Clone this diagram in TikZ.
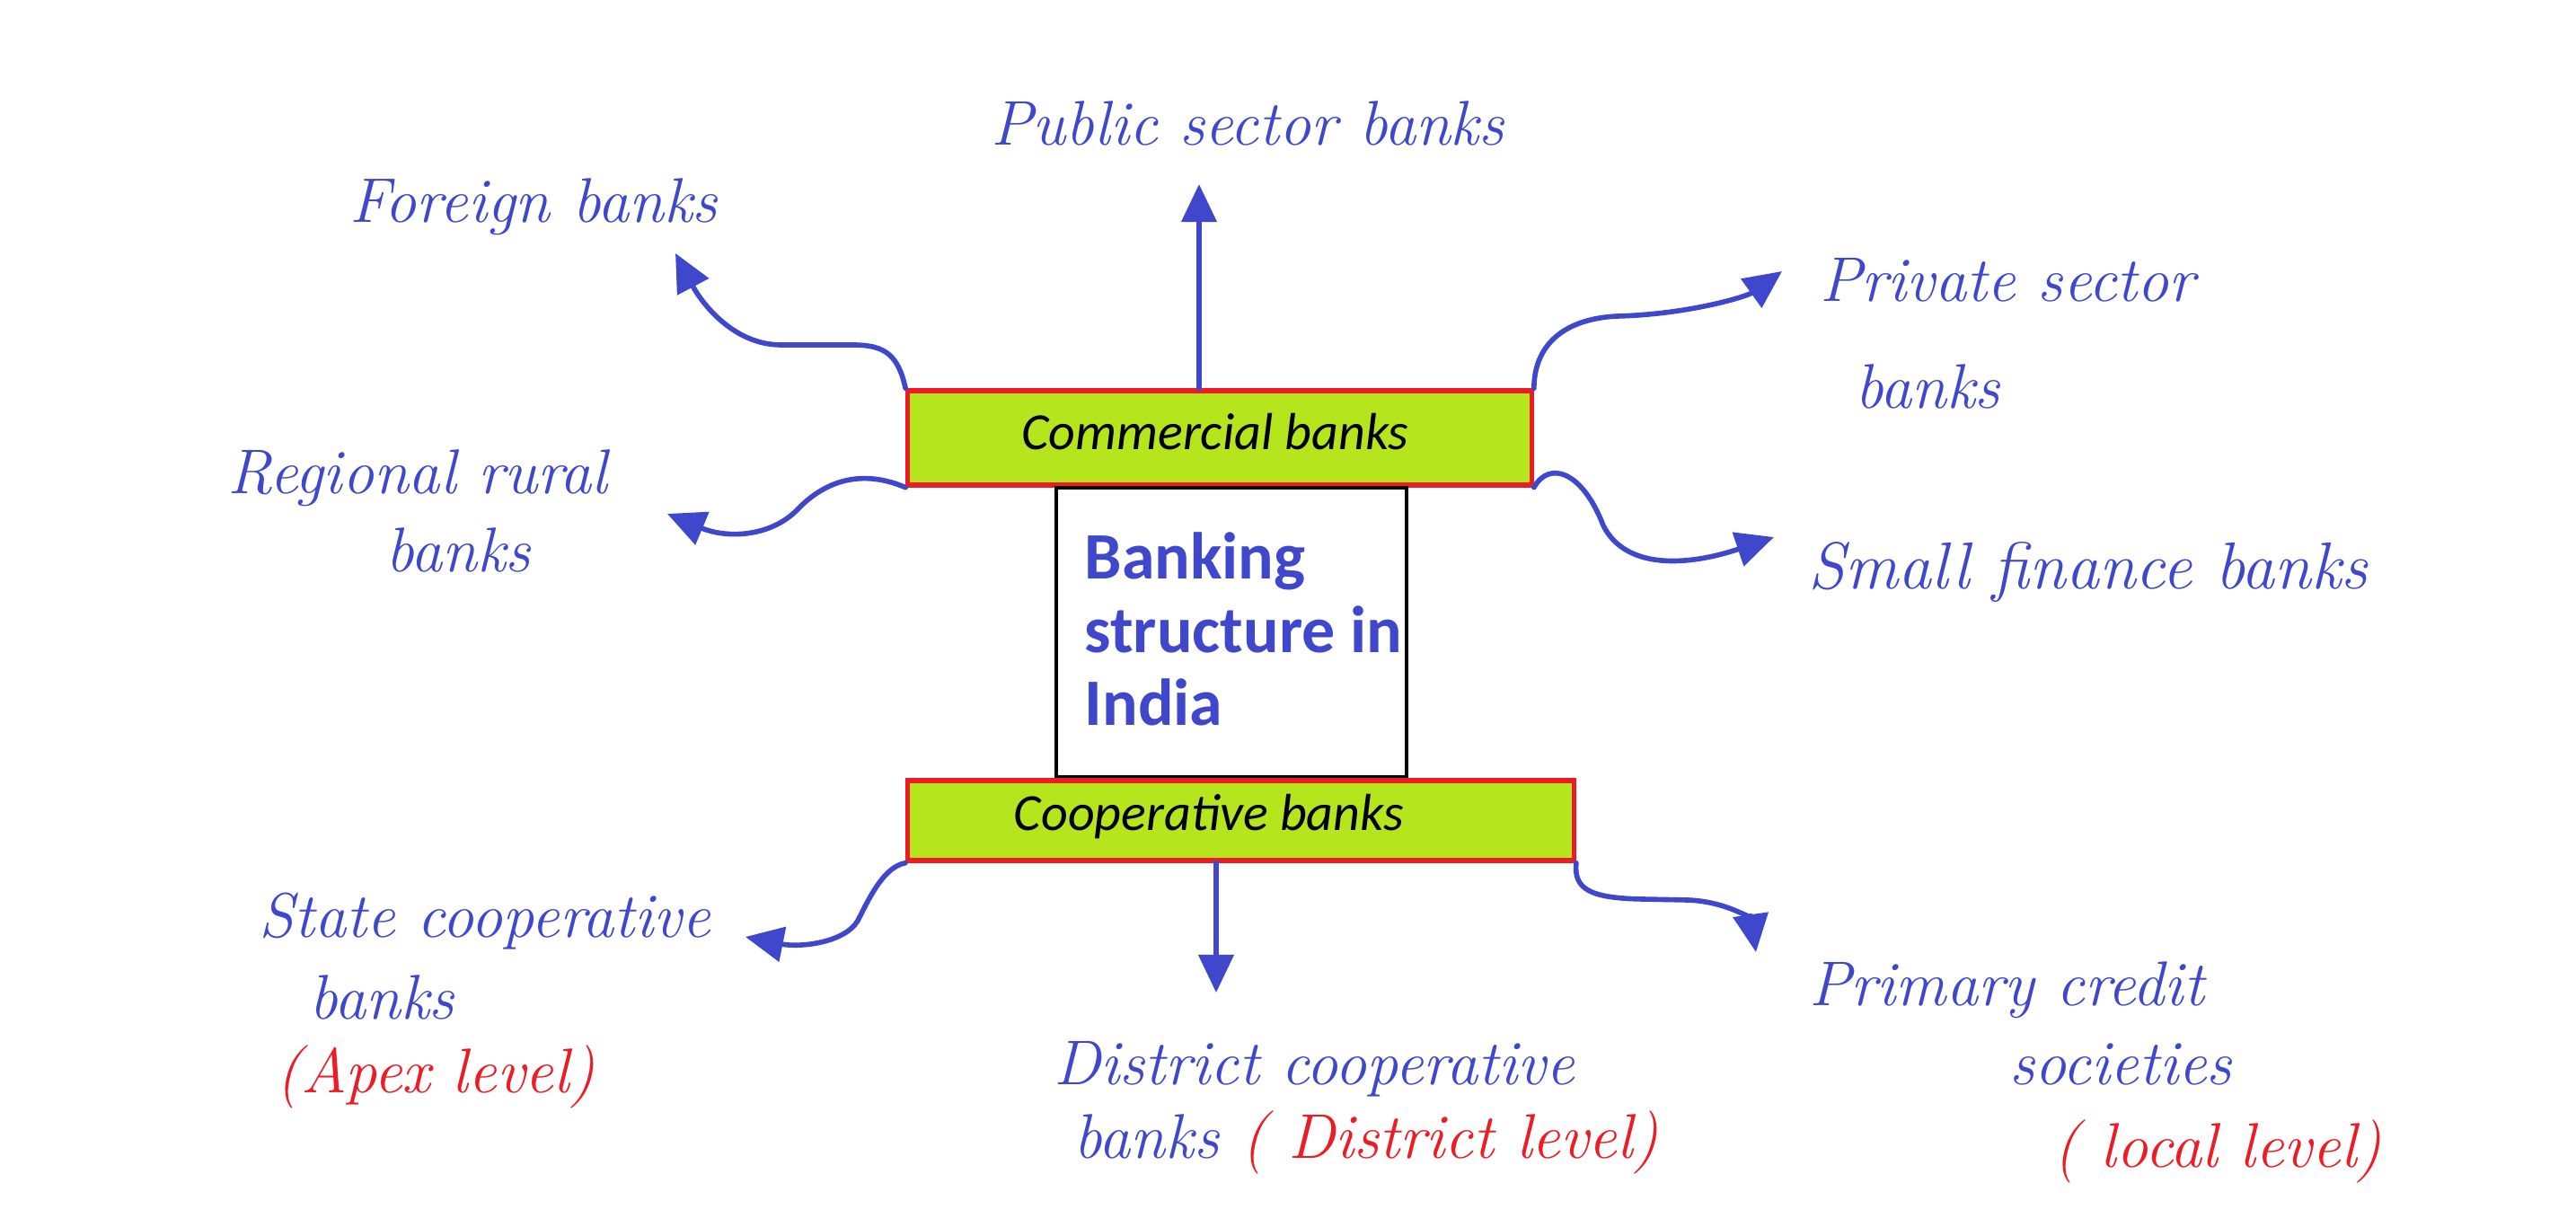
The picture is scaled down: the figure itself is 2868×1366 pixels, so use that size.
\documentclass[tikz,border=0pt]{standalone}
\usepackage{fontspec}
\newfontfamily\boxfont{Carlito}
\usetikzlibrary{arrows.meta}
\definecolor{pblue}{HTML}{3F48CC}
\definecolor{pred}{HTML}{ED1C24}
\definecolor{pgreen}{HTML}{B5E61D}
\begin{document}
\begin{tikzpicture}[x=0.01cm,y=-0.01cm,
  hand/.style={text=pblue, font=\fontsize{20}{24}\selectfont\itshape, anchor=base, inner sep=0pt},
  handred/.style={hand, text=pred},
  bar/.style={draw=pred, fill=pgreen, line width=1.5pt, inner sep=0pt},
  barlabel/.style={font=\boxfont\itshape\fontsize{16.5}{19}\selectfont, text=black, inner sep=0pt},
  centrebox/.style={draw=black, fill=white, line width=1.3pt, inner sep=0pt},
  conn/.style={draw=pblue, line width=1.6pt, line cap=round, -{Triangle[length=12pt,width=11pt]}},
]
\useasboundingbox[fill=white] (0,0) rectangle (2868,1366);

% boxes
\node[bar, minimum width=6.94cm, minimum height=1.05cm] (com) at (1358,487.5) {};
\node[barlabel] (comt) at (1353,481) {Commercial banks};
\node[centrebox, minimum width=3.9cm, minimum height=3.22cm] (cen) at (1371,704) {};
\node[anchor=north west, align=left, inner sep=0pt, text=pblue,
      font=\boxfont\bfseries\fontsize{21}{23.2}\selectfont] (cent) at (1207,592)
      {Banking\\structure in\\India};
\node[bar, minimum width=7.41cm, minimum height=0.89cm] (coop) at (1381.5,913.5) {};
\node[barlabel] (coopt) at (1346,909) {Cooperative banks};

% labels
\node[hand] (pub) at (1389,161) {Public sector banks};
\node[hand] (for) at (594,247) {Foreign banks};
\node[hand] (priv1) at (2235,335) {Private sector};
\node[hand] (priv2) at (2146,454) {banks};
\node[hand] (rr1) at (465,549) {Regional rural};
\node[hand] (rr2) at (510,636) {banks};
\node[hand, font=\fontsize{21}{24}\selectfont\itshape] (sf) at (2325,655) {Small finance banks};
\node[hand] (sc1) at (540,1043) {State cooperative};
\node[hand] (sc2) at (425,1134) {banks};
\node[handred] (sc3) at (485,1216) {(Apex level)};
\node[hand] (dc1) at (1463,1207) {District cooperative};
\node[hand] (dc2) at (1521,1289) {banks {\color{pred}( District level)}};
\node[hand] (pc1) at (2234,1119) {Primary credit};
\node[hand] (pc2) at (2361,1207) {societies};
\node[handred] (pc3) at (2469,1299) {( local level)};

% arrow ends
\coordinate (fbE) at (752,282);
\coordinate (pubE) at (1335,205);
\coordinate (prE) at (1984,302);
\coordinate (rrE) at (743,572);
\coordinate (sfE) at (1975,598);
\coordinate (scE) at (830,1043);
\coordinate (dcE) at (1354,1105);
\coordinate (pcE) at (1955,1060);

% connectors
\draw[conn] (com.north west) .. controls (1000,395) and (985,384) .. (950,384)
   -- (870,384) .. controls (815,384) and (780,335) .. (fbE);
\draw[conn] (com.north -| pubE) -- (pubE);
\draw[conn] (com.north east) .. controls (1708,385) and (1740,355) .. (1800,352)
   .. controls (1880,350) and (1945,330) .. (prE);
\draw[conn] (com.south west) .. controls (960,522) and (920,535) .. (890,565)
   .. controls (860,598) and (810,600) .. (rrE);
\draw[conn] (com.south east) .. controls (1725,512) and (1762,525) .. (1785,585)
   .. controls (1810,635) and (1880,630) .. (sfE);
\draw[conn] (coop.south west) .. controls (985,965) and (970,995) .. (955,1025)
   .. controls (940,1050) and (890,1055) .. (scE);
\draw[conn] (coop.south -| dcE) -- (dcE);
\draw[conn] (coop.south east) .. controls (1752,990) and (1770,1000) .. (1830,1001)
   -- (1880,1002) .. controls (1925,1004) and (1950,1025) .. (pcE);
\end{tikzpicture}
\end{document}
